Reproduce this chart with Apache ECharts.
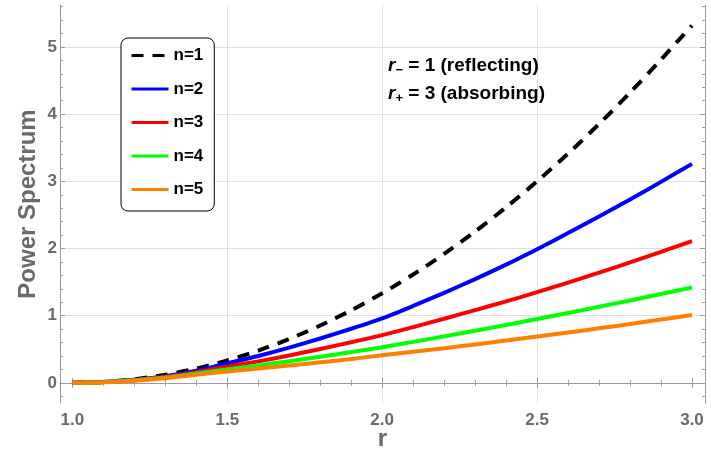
<!DOCTYPE html>
<html>
<head>
<meta charset="utf-8">
<script src="https://cdn.jsdelivr.net/npm/echarts@6/dist/echarts.min.js"></script>
<style>
  html, body { margin: 0; padding: 0; background: #fff; }
  #chart { width: 711px; height: 456px; }
</style>
</head>
<body>
<div id="chart"></div>
<script>
// Radial positions r from the reflecting wall (r = 1) to the absorbing wall (r = 3)
const rValues = [1.0, 1.1, 1.2, 1.3, 1.4, 1.5, 1.6, 1.7, 1.8, 1.9, 2.0,
                 2.1, 2.2, 2.3, 2.4, 2.5, 2.6, 2.7, 2.8, 2.9, 3.0];

// Power spectrum for each mode n
const spectrumN1 = [0, 0.013, 0.053, 0.12, 0.213, 0.333, 0.48, 0.653, 0.853, 1.08, 1.333,
                    1.613, 1.92, 2.253, 2.613, 3.0, 3.413, 3.853, 4.32, 4.813, 5.32];
const spectrumN2 = [0, 0.012, 0.045, 0.10, 0.18, 0.29, 0.40, 0.524, 0.66, 0.805, 0.96,
                    1.145, 1.34, 1.545, 1.76, 1.99, 2.23, 2.477, 2.731, 2.992, 3.26];
const spectrumN3 = [0, 0.011, 0.04, 0.09, 0.16, 0.24, 0.32, 0.408, 0.505, 0.605, 0.71,
                    0.83, 0.955, 1.083, 1.213, 1.35, 1.493, 1.641, 1.793, 1.949, 2.11];
const spectrumN4 = [0, 0.01, 0.037, 0.08, 0.14, 0.20, 0.26, 0.323, 0.389, 0.458, 0.53,
                    0.61, 0.692, 0.776, 0.862, 0.95, 1.04, 1.132, 1.226, 1.322, 1.42];
const spectrumN5 = [0, 0.009, 0.033, 0.07, 0.12, 0.17, 0.212, 0.257, 0.305, 0.356, 0.41,
                    0.462, 0.516, 0.572, 0.63, 0.69, 0.75, 0.812, 0.876, 0.942, 1.01];

const seriesNames = ['n=1', 'n=2', 'n=3', 'n=4', 'n=5'];
const seriesColors = ['#000000', '#0000ff', '#ff0000', '#00ff00', '#ff8000'];
const seriesData = [spectrumN1, spectrumN2, spectrumN3, spectrumN4, spectrumN5];

// Tick positions
const xMajorTicks = [1.0, 1.5, 2.0, 2.5, 3.0];
const xMinorTicks = [1.0, 1.1, 1.2, 1.3, 1.4, 1.5, 1.6, 1.7, 1.8, 1.9, 2.0,
                     2.1, 2.2, 2.3, 2.4, 2.5, 2.6, 2.7, 2.8, 2.9, 3.0];
const xGridLines = [1.5, 2.0, 2.5];
const yMajorTicks = [0, 1, 2, 3, 4, 5];
const yMinorTicks = [-0.2, 0, 0.2, 0.4, 0.6, 0.8, 1, 1.2, 1.4, 1.6, 1.8, 2, 2.2, 2.4, 2.6, 2.8,
                     3, 3.2, 3.4, 3.6, 3.8, 4, 4.2, 4.4, 4.6, 4.8, 5, 5.2, 5.4, 5.6];

const X_MIN = 0.96, X_MAX = 3.042;
const Y_MIN = -0.30, Y_MAX = 5.625;

const frameColor = '#9c9c9c';
const labelColor = '#6a6a6a';
const gridColor = '#e0e0e0';
const fontFamily = 'Liberation Sans, Arial, sans-serif';

const gridBox = { left: 60, right: 6, top: 5, bottom: 53, outerBoundsMode: 'none', containLabel: false };

function tickAxis(gridIndex, position, min, max, ticks, len, showLine) {
  return {
    type: 'value', gridIndex, position, min, max,
    axisLine: { show: showLine, lineStyle: { color: frameColor, width: 1 } },
    axisTick: { show: true, inside: true, length: len, customValues: ticks,
                lineStyle: { color: frameColor, width: 1 } },
    axisLabel: { show: false },
    splitLine: { show: false }
  };
}

function gridLineAxis(gridIndex, position, min, max, values) {
  return {
    type: 'value', gridIndex, position, min, max,
    axisLine: { show: false },
    axisTick: { show: false, customValues: values },
    axisLabel: { show: false },
    splitLine: { show: true, lineStyle: { color: gridColor, width: 1 } }
  };
}

const chart = echarts.init(document.getElementById('chart'), null, { renderer: 'canvas' });

const noteRich = {
  r: { fontSize: 19, fontWeight: 'bold', fontStyle: 'italic', fontFamily, fill: '#000' },
  s: { fontSize: 13, fontWeight: 'bold', fontFamily, fill: '#000', padding: [10, 2, 0, 0] },
  t: { fontSize: 19, fontWeight: 'bold', fontFamily, fill: '#000' }
};

const option = {
  animation: false,
  backgroundColor: '#ffffff',
  grid: [
    Object.assign({}, gridBox),
    Object.assign({}, gridBox),
    Object.assign({}, gridBox)
  ],
  xAxis: [
    {
      type: 'value', gridIndex: 0, position: 'bottom', min: X_MIN, max: X_MAX,
      name: 'r', nameLocation: 'middle', nameGap: 24, nameMoveOverlap: false,
      nameTextStyle: { color: labelColor, fontSize: 24, fontWeight: 'bold', fontFamily },
      axisLine: { show: true, lineStyle: { color: frameColor, width: 1 } },
      axisTick: { show: true, inside: true, length: 5, customValues: xMajorTicks,
                  lineStyle: { color: frameColor } },
      axisLabel: { show: true, customValues: xMajorTicks, margin: 9,
                   color: labelColor, fontSize: 17, fontWeight: 'bold', fontFamily,
                   formatter: v => v.toFixed(1) },
      splitLine: { show: false }
    },
    tickAxis(0, 'top', X_MIN, X_MAX, xMinorTicks, 3, true),
    tickAxis(1, 'bottom', X_MIN, X_MAX, xMinorTicks, 3, false),
    tickAxis(1, 'top', X_MIN, X_MAX, xMajorTicks, 5, false),
    gridLineAxis(2, 'bottom', X_MIN, X_MAX, xGridLines)
  ],
  yAxis: [
    {
      type: 'value', gridIndex: 0, position: 'left', min: Y_MIN, max: Y_MAX,
      name: 'Power Spectrum', nameLocation: 'middle', nameGap: 20, nameRotate: 90,
      nameMoveOverlap: false,
      nameTextStyle: { color: labelColor, fontSize: 24, fontWeight: 'bold', fontFamily },
      axisLine: { show: true, lineStyle: { color: frameColor, width: 1 } },
      axisTick: { show: true, inside: true, length: 5, customValues: yMajorTicks,
                  lineStyle: { color: frameColor } },
      axisLabel: { show: true, customValues: yMajorTicks, margin: 3,
                   color: labelColor, fontSize: 17, fontWeight: 'bold', fontFamily },
      splitLine: { show: false }
    },
    tickAxis(0, 'right', Y_MIN, Y_MAX, yMinorTicks, 3, true),
    tickAxis(1, 'left', Y_MIN, Y_MAX, yMinorTicks, 3, false),
    tickAxis(1, 'right', Y_MIN, Y_MAX, yMajorTicks, 5, false),
    gridLineAxis(2, 'left', Y_MIN, Y_MAX, yMajorTicks)
  ],
  legend: {
    show: true,
    orient: 'vertical',
    left: 121, top: 38,
    padding: [9, 11, 13, 9],
    itemGap: 16.5,
    itemWidth: 37, itemHeight: 14,
    borderColor: '#000', borderWidth: 1, borderRadius: 7,
    backgroundColor: '#fff',
    data: seriesNames,
    textStyle: { color: '#000', fontSize: 17, fontWeight: 'bold', fontFamily },
    itemStyle: { opacity: 0 },
    lineStyle: { width: 3 }
  },
  graphic: [
    {
      type: 'text', left: 388, top: 56, z: 10,
      style: { text: '{r|r}{s|−} {t|= 1 (reflecting)}', rich: noteRich }
    },
    {
      type: 'text', left: 388, top: 84, z: 10,
      style: { text: '{r|r}{s|+} {t|= 3 (absorbing)}', rich: noteRich }
    }
  ],
  series: seriesNames.map((name, i) => ({
    name,
    type: 'line',
    xAxisIndex: 0, yAxisIndex: 0,
    data: rValues.map((r, k) => [r, seriesData[i][k]]),
    showSymbol: false, symbol: 'none',
    smooth: 0.25,
    color: seriesColors[i],
    lineStyle: {
      color: seriesColors[i],
      width: 4,
      type: i === 0 ? [12, 9] : 'solid',
      cap: 'butt',
      join: 'round'
    }
  }))
};

chart.setOption(option);
</script>
</body>
</html>
